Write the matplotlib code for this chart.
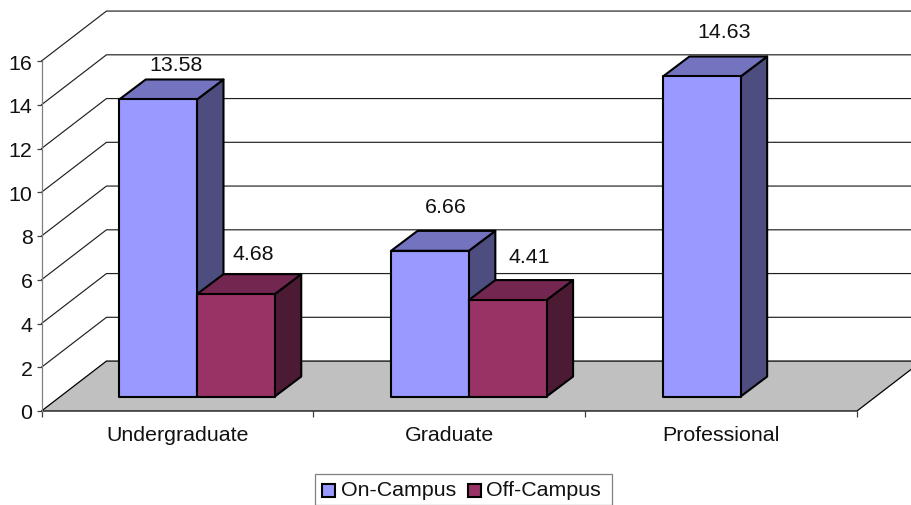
"""
3-D style clustered column chart, housing cost by student level
"""

import matplotlib
matplotlib.use('Agg')
import matplotlib.pyplot as plt
from matplotlib.patches import Polygon, Rectangle

plt.rcParams['font.family'] = ['Liberation Sans', 'DejaVu Sans']

categories = ['Undergraduate', 'Graduate', 'Professional']
on_campus = [13.58, 6.66, 14.63]
off_campus = [4.68, 4.41, None]
y_ticks = [0, 2, 4, 6, 8, 10, 12, 14, 16]

# Colors
on_front, on_top, on_side = '#9999FF', '#7373BF', '#4D4D80'
off_front, off_top, off_side = '#993366', '#732650', '#4D1A33'
floor_color = '#C0C0C0'
text_size = 15.4

W, H = 912, 506
fig = plt.figure(figsize=(W / 100, H / 100), dpi=100, facecolor='white')
ax = fig.add_axes([41.5 / W, (H - 412) / H, (857 - 41.5) / W, 350 / H])
ax.set_xlim(0, 3)
ax.set_ylim(0, 16)
ax.patch.set_visible(False)
for name in ['top', 'right', 'bottom']:
    ax.spines[name].set_visible(False)
ax.spines['left'].set_color('#808080')
ax.spines['left'].set_linewidth(0.9)

# Depth of the chart box and of the columns, in data units
wall_dx, wall_dy = 0.239, 2.283
bar_dx, bar_dy = 0.0975, 0.913
base_y = 0.662
bar_w = 0.286
bar_start = 0.286

# ========== WALLS AND FLOOR ==========
for t in y_ticks[1:]:
    ax.plot([0, wall_dx, 3 + wall_dx], [t, t + wall_dy, t + wall_dy],
            color='#202020', lw=0.85, clip_on=False, zorder=1)

floor = Polygon([(0, 0), (wall_dx, wall_dy), (3 + wall_dx, wall_dy), (3, 0)],
                closed=True, facecolor=floor_color, edgecolor='black',
                lw=0.9, clip_on=False, zorder=2)
ax.add_patch(floor)


def draw_column(x, value, front, top, side, z):
    y = base_y + value
    w = bar_w
    faces = [
        ([(x + w, base_y), (x + w + bar_dx, base_y + bar_dy),
          (x + w + bar_dx, y + bar_dy), (x + w, y)], side),
        ([(x, y), (x + bar_dx, y + bar_dy),
          (x + w + bar_dx, y + bar_dy), (x + w, y)], top),
        ([(x, base_y), (x, y), (x + w, y), (x + w, base_y)], front),
    ]
    for pts, color in faces:
        ax.add_patch(Polygon(pts, closed=True, facecolor=color, edgecolor='black',
                             lw=1.5, joinstyle='round', clip_on=False, zorder=z))


# ========== COLUMNS ==========
for i in range(len(categories)):
    draw_column(i + bar_start, on_campus[i], on_front, on_top, on_side, 3)
    if off_campus[i] is not None:
        draw_column(i + bar_start + bar_w, off_campus[i], off_front, off_top, off_side, 4)

# Value labels, nudged by hand in pixels from the column top
on_nudge = [(17.5, 35), (16, 44), (22, 45)]
off_nudge = [(17, 41), (22, 44), None]
for i in range(len(categories)):
    x = i + bar_start + bar_w / 2
    ax.annotate(f'{on_campus[i]:.2f}', xy=(x, base_y + on_campus[i]),
                xytext=(on_nudge[i][0] * 0.72, on_nudge[i][1] * 0.72),
                textcoords='offset points', ha='center', va='center',
                fontsize=text_size, color='#111111', annotation_clip=False, zorder=6)
    if off_campus[i] is not None:
        ax.annotate(f'{off_campus[i]:.2f}', xy=(x + bar_w, base_y + off_campus[i]),
                    xytext=(off_nudge[i][0] * 0.72, off_nudge[i][1] * 0.72),
                    textcoords='offset points', ha='center', va='center',
                    fontsize=text_size, color='#111111', annotation_clip=False, zorder=6)

# ========== AXES ==========
ax.set_yticks(y_ticks)
ax.tick_params(axis='y', length=3.5, width=0.9, color='#404040', pad=3,
               labelsize=text_size, labelcolor='#111111')
ax.set_xticks([0, 1, 2, 3])
ax.set_xticklabels([])
ax.set_xticks([0.5, 1.5, 2.5], labels=categories, minor=True)
ax.tick_params(axis='x', which='major', length=4, width=0.9, color='#404040')
ax.tick_params(axis='x', which='minor', length=0, pad=10,
               labelsize=text_size, labelcolor='#111111')

# ========== LEGEND ==========
lax = fig.add_axes([0, 0, 1, 1])
lax.set_xlim(0, W)
lax.set_ylim(H, 0)
lax.axis('off')
lax.add_patch(Rectangle((315, 475), 297, 30.5, facecolor='white',
                        edgecolor='#808080', lw=0.9))
lax.add_patch(Rectangle((322.5, 485), 13, 13, facecolor=on_front,
                        edgecolor='black', lw=1.5))
lax.add_patch(Rectangle((468.5, 485), 13, 13, facecolor=off_front,
                        edgecolor='black', lw=1.5))
lax.text(341, 491, 'On-Campus', ha='left', va='center', fontsize=text_size, color='#111111')
lax.text(486, 491, 'Off-Campus', ha='left', va='center', fontsize=text_size, color='#111111')

fig.savefig('out.png', dpi=100, facecolor='white')
plt.close(fig)
